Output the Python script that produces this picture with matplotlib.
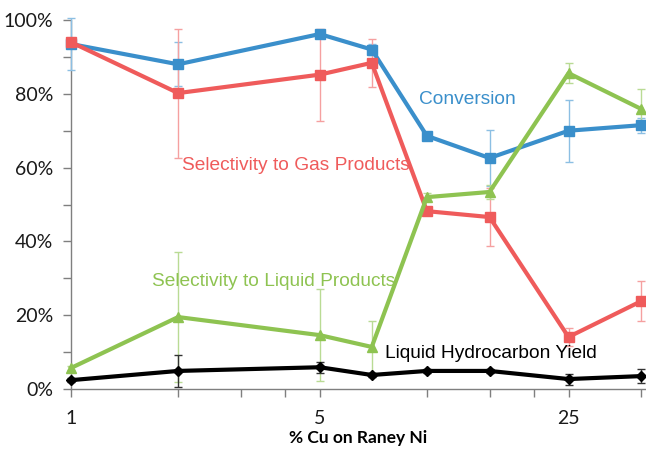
import matplotlib
matplotlib.use("Agg")
import matplotlib.pyplot as plt
from matplotlib.ticker import FixedLocator, NullFormatter, FuncFormatter

cu = [1, 2, 5, 7, 10, 15, 25, 40]
conversion = [93.5, 88.0, 96.2, 92.0, 68.6, 62.6, 70.0, 71.5]
conversion_err = [7.0, 6.0, 1.2, 1.5, 1.0, 7.5, 8.4, 2.0]
gas_sel = [94.0, 80.2, 85.2, 88.4, 48.2, 46.6, 14.1, 23.8]
gas_err = [1.0, 17.5, 12.5, 6.5, 1.0, 7.8, 2.5, 5.5]
liq_sel = [5.7, 19.5, 14.6, 11.4, 52.0, 53.4, 85.6, 75.9]
liq_err = [0.5, 17.5, 12.5, 7.0, 1.0, 2.0, 2.7, 5.5]
yield_ = [2.4, 4.9, 5.9, 3.8, 4.9, 4.9, 2.7, 3.5]
yield_err = [0.5, 4.3, 1.5, 0.5, 0.5, 0.5, 1.5, 2.0]

major_ticks = [1, 5, 25]
minor_ticks = [2, 3, 4, 10, 15, 20, 40]

fig = plt.figure(figsize=(6.46, 4.49), dpi=100)
ax = fig.add_axes([0.1099, 0.1336, 0.8885, 0.8218])

blue = "#3a8fcb"
red = "#ef5b5b"
green = "#8ec351"

series = [
    (conversion, conversion_err, blue, "#8cbfe3", "s", 7),
    (gas_sel, gas_err, red, "#f5a0a0", "s", 7),
    (liq_sel, liq_err, green, "#b9db94", "^", 7),
    (yield_, yield_err, "black", "#333333", "D", 5),
]
for vals, err, col, ecol, mk, ms in series:
    ax.errorbar(cu, vals, yerr=err, color=col, ecolor=ecol, elinewidth=1.0,
                capsize=3, capthick=1.0, lw=3, marker=mk, ms=ms,
                markerfacecolor=col, markeredgecolor=col, clip_on=False, zorder=3)

ax.set_xscale("log")
ax.set_xlim(1, 41)
ax.set_ylim(0, 100)
ax.xaxis.set_major_locator(FixedLocator(major_ticks))
ax.xaxis.set_major_formatter(FuncFormatter(lambda v, p: f"{v:g}"))
ax.xaxis.set_minor_locator(FixedLocator(minor_ticks))
ax.xaxis.set_minor_formatter(NullFormatter())
ax.yaxis.set_major_locator(FixedLocator([0, 20, 40, 60, 80, 100]))
ax.yaxis.set_minor_locator(FixedLocator([10, 30, 50, 70, 90]))
ax.yaxis.set_major_formatter(FuncFormatter(lambda v, p: f"{v:.0f}%"))

for s in ["top", "right"]:
    ax.spines[s].set_visible(False)
for s in ["left", "bottom"]:
    ax.spines[s].set_color("#7f7f7f")
    ax.spines[s].set_linewidth(1.0)
ax.tick_params(which="both", direction="out", length=6, color="#7f7f7f", width=1)
ax.tick_params(axis="both", labelsize=14, labelcolor="#1a1a1a")
ax.tick_params(axis="y", pad=7)
ax.tick_params(axis="x", pad=9)
for lab in ax.get_xticklabels() + ax.get_yticklabels():
    lab.set_family("Lato")

fig.text(358 / 646, 1 - 438 / 449, "% Cu on Raney Ni", fontsize=12.5,
         fontweight="bold", family="Lato", ha="center", va="center")

tf = "Liberation Sans"
fs = 13.8
fig.text(419 / 646, 1 - 100 / 449, "Conversion", color=blue, fontsize=fs,
         family=tf, va="center", ha="left")
fig.text(182 / 646, 1 - 166 / 449, "Selectivity to Gas Products", color=red,
         fontsize=fs, family=tf, va="center", ha="left")
fig.text(152 / 646, 1 - 281 / 449, "Selectivity to Liquid Products", color=green,
         fontsize=fs, family=tf, va="center", ha="left")
fig.text(385 / 646, 1 - 354 / 449, "Liquid Hydrocarbon Yield", color="black",
         fontsize=fs, family=tf, va="center", ha="left")

fig.savefig("out.png", dpi=100)
